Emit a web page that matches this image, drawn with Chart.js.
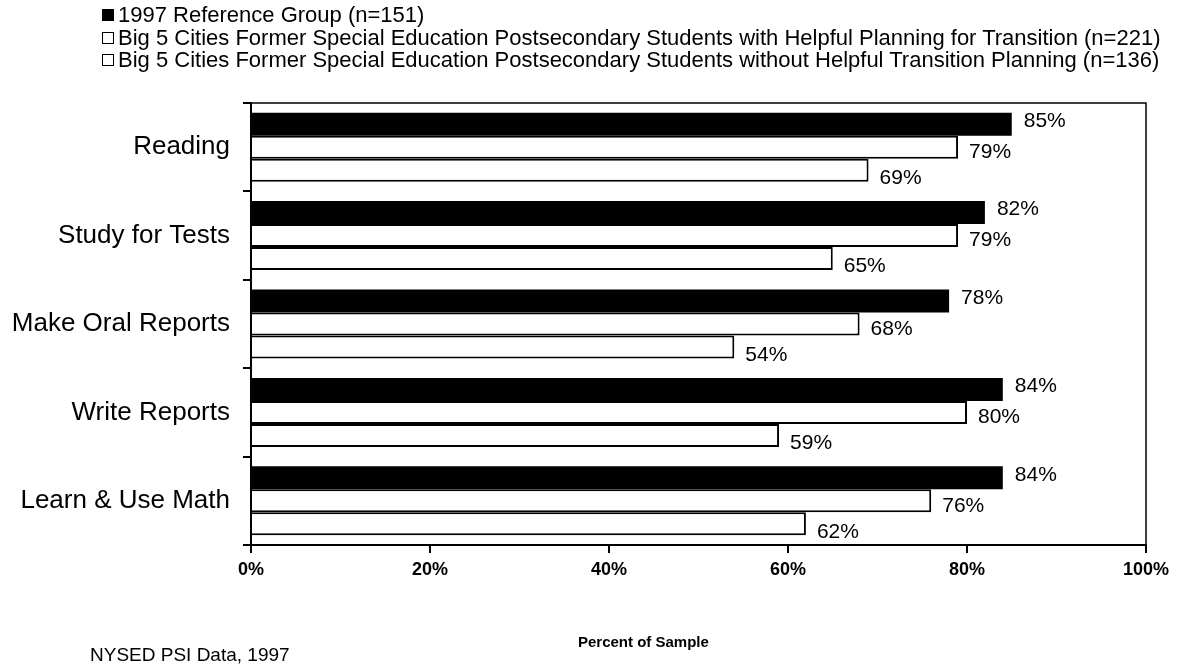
<!DOCTYPE html>
<html>
<head>
<meta charset="utf-8">
<script src="https://cdn.jsdelivr.net/npm/chart.js@4/dist/chart.umd.min.js"></script>
<style>
  html, body { margin: 0; padding: 0; background: #fff; }
  #wrap { position: relative; width: 1180px; height: 666px; font-family: 'Liberation Sans', Arial, sans-serif; color: #000; }
  #c { position: absolute; left: 0; top: 0; }
  #legend { position: absolute; left: 102px; top: 4px; font-size: 22px; line-height: 22.5px; white-space: nowrap; }
  #legend .row { display: flex; align-items: center; height: 22.5px; }
  #legend .box { width: 10px; height: 10px; border: 1.5px solid #000; margin-right: 4px; flex: none; }
  #xtitle { position: absolute; left: 578px; top: 633px; font-size: 15px; font-weight: bold; line-height: 18px; white-space: nowrap; }
  #footer { position: absolute; left: 90px; top: 644px; font-size: 19px; line-height: 22px; white-space: nowrap; }
</style>
</head>
<body>
<div id="wrap">
  <canvas id="c" width="1180" height="666"></canvas>
  <div id="legend"></div>
  <div id="xtitle"></div>
  <div id="footer"></div>
</div>
<script>
const categories = ['Reading', 'Study for Tests', 'Make Oral Reports', 'Write Reports', 'Learn & Use Math'];
const seriesLabels = [
  '1997 Reference Group (n=151)',
  'Big 5 Cities Former Special Education Postsecondary Students with Helpful Planning for Transition (n=221)',
  'Big 5 Cities Former Special Education Postsecondary Students without Helpful Transition Planning (n=136)'
];
const referenceGroup = [85, 82, 78, 84, 84];
const withPlanning = [79, 79, 68, 80, 76];
const withoutPlanning = [69, 65, 54, 59, 62];
const xTicks = [0, 20, 40, 60, 80, 100];
const xAxisTitle = 'Percent of Sample';
const footerText = 'NYSED PSI Data, 1997';

const fills = ['#000000', '#ffffff', '#ffffff'];
const FONT = "'Liberation Sans', Arial, sans-serif";

// HTML legend built from the series labels
const legendEl = document.getElementById('legend');
seriesLabels.forEach((lab, i) => {
  const row = document.createElement('div'); row.className = 'row';
  const box = document.createElement('span'); box.className = 'box'; box.style.background = fills[i];
  const txt = document.createElement('span'); txt.textContent = lab;
  row.appendChild(box); row.appendChild(txt); legendEl.appendChild(row);
});
document.getElementById('xtitle').textContent = xAxisTitle;
document.getElementById('footer').textContent = footerText;

const labelOffsets = [{dx: 12, dy: -3}, {dx: 11, dy: 5}, {dx: 11, dy: 8}];

const valueLabels = {
  id: 'valueLabels',
  afterDatasetsDraw(chart) {
    const ctx = chart.ctx;
    ctx.save();
    ctx.font = '21px ' + FONT;
    ctx.fillStyle = '#000';
    ctx.textAlign = 'left';
    ctx.textBaseline = 'middle';
    chart.data.datasets.forEach((ds, di) => {
      const meta = chart.getDatasetMeta(di);
      meta.data.forEach((bar, i) => {
        const o = labelOffsets[di];
        ctx.fillText(ds.data[i] + '%', bar.x + o.dx, bar.y + o.dy);
      });
    });
    ctx.restore();
  }
};

const frame = {
  id: 'frame',
  afterDraw(chart) {
    const a = chart.chartArea, ctx = chart.ctx;
    ctx.save();
    ctx.strokeStyle = '#000';
    ctx.lineWidth = 1.5;
    ctx.beginPath();
    ctx.moveTo(a.left, a.top);
    ctx.lineTo(a.right, a.top);
    ctx.lineTo(a.right, a.bottom);
    ctx.stroke();
    ctx.restore();
  }
};

new Chart(document.getElementById('c'), {
  type: 'bar',
  data: {
    labels: categories,
    datasets: [
      { label: seriesLabels[0], data: referenceGroup, backgroundColor: fills[0], borderColor: '#000', borderWidth: 0 },
      { label: seriesLabels[1], data: withPlanning, backgroundColor: fills[1], borderColor: '#000', borderWidth: 2 },
      { label: seriesLabels[2], data: withoutPlanning, backgroundColor: fills[2], borderColor: '#000', borderWidth: 2 }
    ]
  },
  options: {
    indexAxis: 'y',
    responsive: false,
    animation: false,
    devicePixelRatio: 1,
    layout: { padding: { top: 103, right: 34, left: 0, bottom: 0 } },
    categoryPercentage: 0.78,
    barPercentage: 1.0,
    plugins: { legend: { display: false }, tooltip: { enabled: false }, title: { display: false } },
    scales: {
      x: {
        min: 0, max: 100,
        afterBuildTicks(scale) { scale.ticks = xTicks.map(v => ({ value: v })); },
        afterFit(scale) { scale.height = 121; },
        ticks: { callback: v => v + '%', color: '#000', font: { family: FONT, size: 18, weight: 'bold' }, padding: 6, maxRotation: 0 },
        grid: { drawOnChartArea: false, drawTicks: true, tickLength: 8, color: '#000', lineWidth: 2 },
        border: { display: true, color: '#000', width: 2 }
      },
      y: {
        afterFit(scale) { scale.width = 251; },
        ticks: { color: '#000', font: { family: FONT, size: 26 }, padding: 13 },
        grid: { drawOnChartArea: false, drawTicks: true, tickLength: 8, color: '#000', lineWidth: 2, offset: true },
        border: { display: true, color: '#000', width: 2 }
      }
    }
  },
  plugins: [valueLabels, frame]
});
</script>
</body>
</html>
